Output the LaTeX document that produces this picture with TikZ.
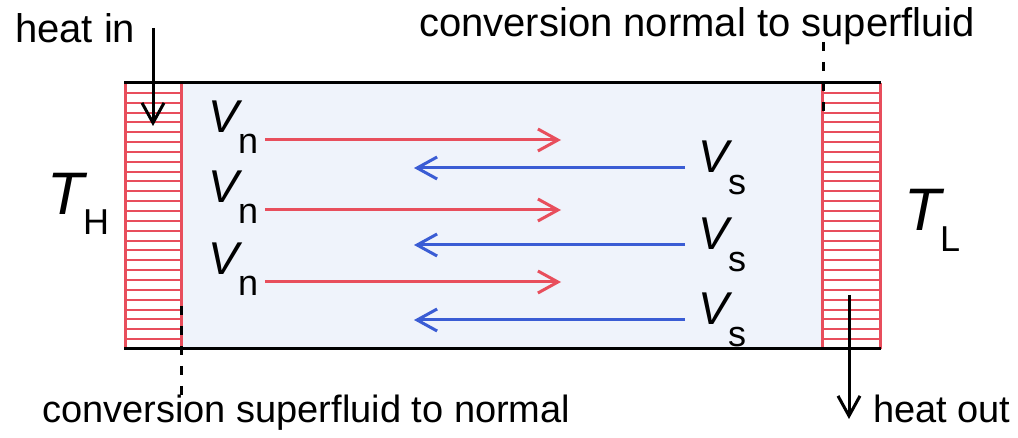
\documentclass[tikz,border=0pt]{standalone}
\usepackage{fontspec}
\setmainfont{Liberation Sans}
\usetikzlibrary{arrows.meta}
\definecolor{hred}{RGB}{232,78,92}
\definecolor{hblue}{RGB}{58,92,212}
\definecolor{hfill}{RGB}{239,243,251}
\begin{document}
\begin{tikzpicture}[x=1pt,y=-1pt,
  lbl/.style={inner sep=0pt, anchor=base west, font=\fontsize{40}{48}\selectfont},
  lblsm/.style={inner sep=0pt, anchor=base west, font=\fontsize{38}{46}\selectfont},
  vlet/.style={inner sep=0pt, anchor=base west, font=\fontsize{46}{54}\selectfont\itshape},
  tlet/.style={inner sep=0pt, anchor=base west, font=\fontsize{60}{70}\selectfont\itshape},
  sublbl/.style={inner sep=0pt, anchor=base west, font=\fontsize{36}{42}\selectfont},
  barb/.style={-{Straight Barb[length=20pt,width=22pt,line width=3pt]}},
  rflow/.style={barb, hred, line width=3pt},
  bflow/.style={barb, hblue, line width=3pt},
  heat/.style={barb, black, line width=3pt},
  wall/.style={hred, line width=3pt},
  hatch/.style={hred, line width=2pt},
  edge/.style={black, line width=3pt},
  conv/.style={black, line width=3pt, dash pattern=on 9pt off 11pt}
]
\useasboundingbox (0,0) rectangle (1018,438);
\fill[white] (0,0) rectangle (1018,438);
% interior
\fill[hfill] (181,83) rectangle (822,349);
% hatching
\foreach \k in {1,...,26}{
  \draw[hatch] (125,{83+\k*9.85}) -- (181,{83+\k*9.85});
  \draw[hatch] (822,{83+\k*9.85}) -- (880,{83+\k*9.85});
}
% walls
\draw[wall] (125,83) -- (125,349);
\draw[wall] (181,83) -- (181,349);
\draw[wall] (822,83) -- (822,349);
\draw[wall] (880,83) -- (880,349);
% top and bottom
\coordinate (tl) at (124,83);
\coordinate (tr) at (881,83);
\coordinate (bl) at (124,349);
\coordinate (br) at (881,349);
\draw[edge] (tl) -- (tr);
\draw[edge] (bl) -- (br);
% conversion dashed lines
\coordinate (cl1) at (181,306);
\coordinate (cl2) at (181,400);
\coordinate (cr1) at (823,42);
\coordinate (cr2) at (823,114);
\draw[conv] (cl1) -- (cl2);
\draw[conv] (cr1) -- (cr2);
% labels
\node[lbl] (heatin) at (15,43) {heat in};
\node[lbl] (cns) at (419,37) {conversion normal to superfluid};
\node[lblsm] (csn) at (42,423) {conversion superfluid to normal};
\node[lblsm] (heatout) at (873,423) {heat out};
% heat arrows
\coordinate (hi1) at (153,28);
\coordinate (hi2) at (153,126);
\draw[heat] (hi1) -- (hi2);
\coordinate (ho1) at (849,295);
\coordinate (ho2) at (849,419);
\draw[heat] (ho1) -- (ho2);
% temperatures
\node[tlet] (TH) at (47,215) {T};
\node[sublbl] (THs) at (83,235) {H};
\node[tlet] (TL) at (904,231) {T};
\node[sublbl] (TLs) at (940,252) {L};
% V_n rows and red arrows
\foreach \i/\y in {1/140,2/210,3/282}{
  \node[vlet] (vn\i) at (208,{\y-7}) {V};
  \node[sublbl] (vns\i) at (238,{\y+14}) {n};
  \coordinate (ra\i) at (265,\y);
  \coordinate (rb\i) at (561,\y);
  \draw[rflow] (ra\i) -- (rb\i);
}
% V_s rows and blue arrows
\foreach \i/\y in {1/168,2/245,3/320}{
  \node[vlet] (vs\i) at (698,{\y+5}) {V};
  \node[sublbl] (vss\i) at (728,{\y+27}) {s};
  \coordinate (ba\i) at (685,\y);
  \coordinate (bb\i) at (414,\y);
  \draw[bflow] (ba\i) -- (bb\i);
}
\end{tikzpicture}
\end{document}
